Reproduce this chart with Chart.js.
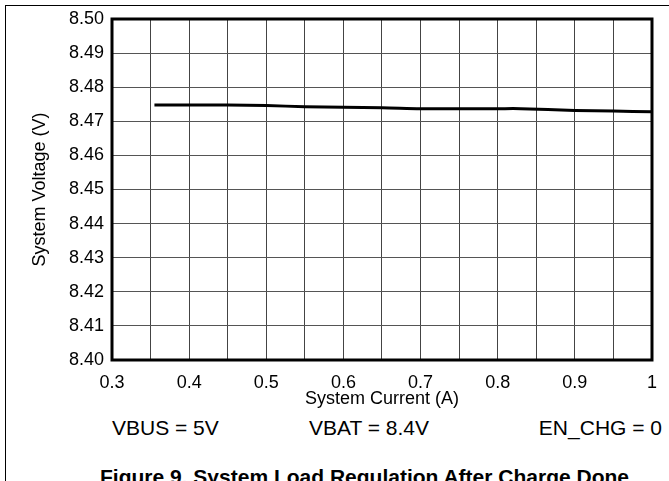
<!DOCTYPE html>
<html>
<head>
<meta charset="utf-8">
<script src="https://cdn.jsdelivr.net/npm/chart.js@4"></script>
<style>
  body { margin: 0; background: #fff; font-family: "Liberation Sans", Arial, sans-serif; }
  #page { position: relative; width: 669px; height: 481px; overflow: hidden; }
  #frame { position: absolute; left: 5px; top: 5px; width: 700px; height: 500px; border-top: 1.5px solid #000; border-left: 1.5px solid #000; }
  #wrap { position: absolute; left: 0; top: 0; width: 669px; height: 415px; }
  .note { position: absolute; font-size: 21px; color: #000; white-space: nowrap; line-height: 1; }
  #caption { position: absolute; left: 100px; top: 466px; font-size: 21px; font-weight: bold; white-space: nowrap; line-height: 1; }
</style>
</head>
<body>
<div id="page">
  <div id="frame"></div>
  <div id="wrap"><canvas id="chart"></canvas></div>
  <div class="note" style="left:112px; top:417px;">VBUS = 5V</div>
  <div class="note" style="left:309px; top:417px;">VBAT = 8.4V</div>
  <div class="note" style="right:7px; top:417px;">EN_CHG = 0</div>
  <div id="caption">Figure 9. System Load Regulation After Charge Done</div>
</div>
<script>
const currentA = [0.355, 0.40, 0.45, 0.50, 0.55, 0.60, 0.65, 0.70, 0.75, 0.80, 0.83, 0.90, 0.95, 1.00];
const voltageV = [8.4748, 8.4748, 8.4748, 8.4746, 8.4743, 8.4741, 8.4740, 8.4737, 8.4737, 8.4737, 8.4737, 8.4732, 8.4730, 8.4728];

const xGrid = [0.3, 0.35, 0.4, 0.45, 0.5, 0.55, 0.6, 0.65, 0.7, 0.75, 0.8, 0.85, 0.9, 0.95, 1.0];
const xLabels = ["0.3", "", "0.4", "", "0.5", "", "0.6", "", "0.7", "", "0.8", "", "0.9", "", "1"];
const yGrid = [8.40, 8.41, 8.42, 8.43, 8.44, 8.45, 8.46, 8.47, 8.48, 8.49, 8.50];
const yLabels = ["8.40", "8.41", "8.42", "8.43", "8.44", "8.45", "8.46", "8.47", "8.48", "8.49", "8.50"];

// thick box round the plot area
const boxPlugin = {
  id: "box",
  afterDraw(chart) {
    const { ctx, chartArea: a } = chart;
    ctx.save();
    ctx.strokeStyle = "#000";
    ctx.lineWidth = 3;
    ctx.strokeRect(a.left, a.top, a.right - a.left, a.bottom - a.top);
    ctx.restore();
  }
};

const tickFont = { family: "Liberation Sans", size: 18 };
const titleFont = { family: "Liberation Sans", size: 18 };

new Chart(document.getElementById("chart"), {
  type: "line",
  data: {
    datasets: [{
      data: currentA.map((x, i) => ({ x: x, y: voltageV[i] })),
      borderColor: "#000",
      borderWidth: 3,
      pointRadius: 0,
      tension: 0.3,
      fill: false
    }]
  },
  options: {
    responsive: true,
    maintainAspectRatio: false,
    animation: false,
    layout: { padding: { top: 19, right: 17, left: 0, bottom: 0 } },
    plugins: { legend: { display: false }, tooltip: { enabled: false } },
    scales: {
      x: {
        type: "linear",
        min: 0.3,
        max: 1.0,
        afterBuildTicks: axis => { axis.ticks = xGrid.map(v => ({ value: v })); },
        afterFit: axis => { axis.height = 55; },
        grid: { color: "#444", lineWidth: 1, drawTicks: false },
        border: { display: false },
        ticks: {
          autoSkip: false,
          maxRotation: 0,
          padding: 12,
          color: "#000",
          font: tickFont,
          callback: (v, i) => xLabels[i]
        },
        title: {
          display: true,
          text: "System Current (A)",
          color: "#000",
          font: titleFont,
          padding: { top: 0, bottom: 5 }
        }
      },
      y: {
        type: "linear",
        min: 8.40,
        max: 8.50,
        afterBuildTicks: axis => { axis.ticks = yGrid.map(v => ({ value: v })); },
        afterFit: axis => { axis.width = 112; },
        grid: { color: "#555", lineWidth: 1, drawTicks: false },
        border: { display: false },
        ticks: {
          padding: 8,
          color: "#000",
          font: tickFont,
          callback: (v, i) => yLabels[i]
        },
        title: {
          display: true,
          text: "System Voltage (V)",
          color: "#000",
          font: titleFont,
          padding: { top: 29, bottom: 0 }
        }
      }
    }
  },
  plugins: [boxPlugin]
});
</script>
</body>
</html>
